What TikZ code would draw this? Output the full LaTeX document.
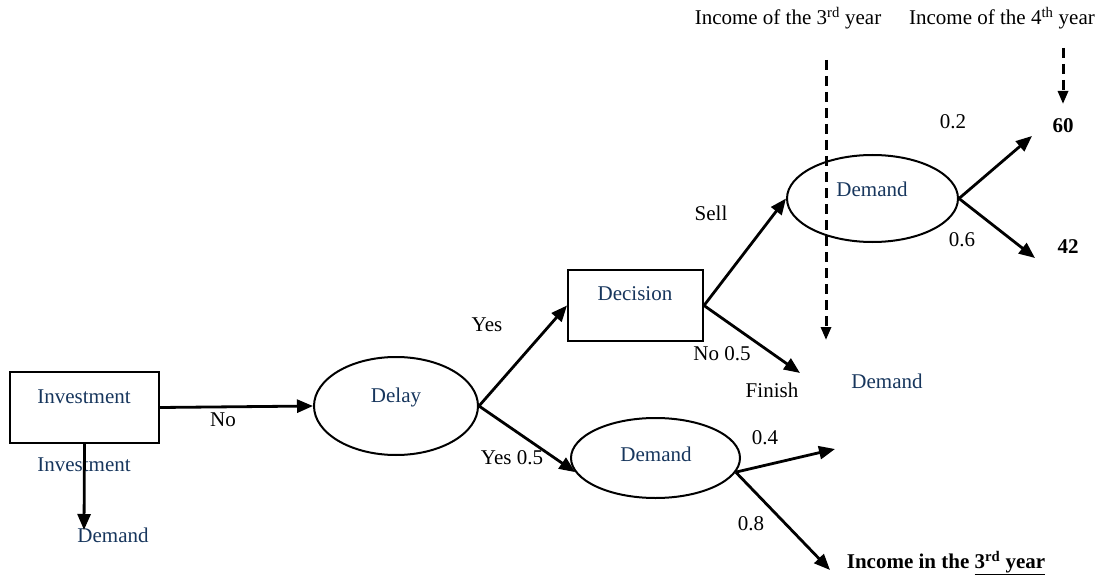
\documentclass[tikz,border=0pt]{standalone}
\usepackage{fontspec}
\setmainfont{Liberation Serif}
\usetikzlibrary{arrows.meta,shapes.geometric}
\definecolor{navy}{RGB}{23,54,93}
\begin{document}
\begin{tikzpicture}[x=1pt,y=-1pt,
  every node/.style={font=\fontsize{21}{25}\selectfont, inner sep=0pt},
  box/.style={draw, line width=2pt},
  oval/.style={draw, ellipse, line width=2pt},
  bluetxt/.style={text=navy},
  arr/.style={line width=2.8pt, -{Triangle[length=16pt,width=13pt]}},
  darr/.style={line width=3pt, dash pattern=on 10pt off 6pt, -{Triangle[length=13pt,width=10pt]}},
  boldtxt/.style={font=\fontsize{21}{25}\selectfont\bfseries}]
\useasboundingbox (0,0) rectangle (1098,575);

% shapes
\node[box, minimum width=149pt, minimum height=71pt] (inv) at (84.5,407.5) {};
\node[oval, minimum width=164pt, minimum height=98pt] (delay) at (396,406) {};
\node[box, minimum width=135pt, minimum height=71pt] (dec) at (635.5,305.5) {};
\node[oval, minimum width=169pt, minimum height=80pt] (ld) at (655.5,458) {};
\node[oval, minimum width=171pt, minimum height=87pt] (ud) at (872.5,198.5) {};

% texts in shapes
\node[bluetxt] (invt) at (84,397) {Investment};
\node[bluetxt] (delayt) at (396,397) {Delay};
\node[bluetxt] (dect) at (635,294) {Decision};
\node[bluetxt] (ldt) at (656,454) {Demand};
\node[bluetxt] (udt) at (872,189) {Demand};

% other texts
\node[bluetxt] (inv2) at (84,465) {Investment};
\node[bluetxt] (dem0) at (113,535) {Demand};
\node[bluetxt] (dem3) at (887,381) {Demand};
\node (no1) at (223,420) {No};
\node (yes1) at (487,325) {Yes};
\node (yes2) at (512,458) {Yes 0.5};
\node (sell) at (711,213) {Sell};
\node (no2) at (722,354) {No 0.5};
\node (finish) at (772,390) {Finish};
\node (p02) at (953,122) {0.2};
\node (p06) at (962,240) {0.6};
\node (p04) at (765,438) {0.4};
\node (p08) at (751,524) {0.8};
\node[boldtxt] (v60) at (1063,126) {60};
\node[boldtxt] (v42) at (1068,247) {42};
\node[boldtxt] (inc3) at (946,563) {Income in the \underline{3\textsuperscript{rd} year}};
\node (h3) at (788,18) {Income of the 3\textsuperscript{rd} year};
\node (h4) at (1002,18) {Income of the 4\textsuperscript{th} year};

% free ends
\coordinate (invd) at (84,530);
\coordinate (fin) at (800,373);
\coordinate (u60) at (1032,136);
\coordinate (u42) at (1035,258);
\coordinate (l04) at (835,449);
\coordinate (l08) at (830,570);
\coordinate (d3a) at (826,60);
\coordinate (d3b) at (826,340);
\coordinate (d4a) at (1063,48);
\coordinate (d4b) at (1063,104);

% connectors
\draw[arr] (inv.south) -- (invd);
\draw[arr] (inv.east) -- (delay.west);
\draw[arr] (delay.east) -- (dec.west);
\draw[arr] (delay.east) -- (ld.190);
\draw[arr] (dec.east) -- (ud.west);
\draw[arr] (dec.east) -- (fin);
\draw[arr] (ud.east) -- (u60);
\draw[arr] (ud.east) -- (u42);
\draw[arr] (ld.-10) -- (l04);
\draw[arr] (ld.-10) -- (l08);
\draw[darr] (d3a) -- (d3b);
\draw[darr] (d4a) -- (d4b);
\end{tikzpicture}
\end{document}
